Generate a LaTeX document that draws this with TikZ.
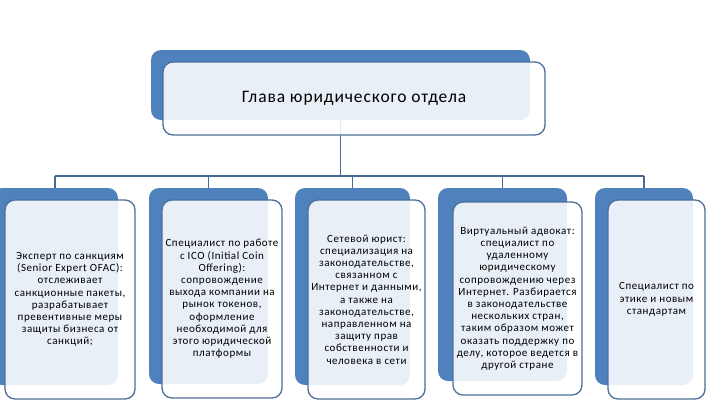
\documentclass[tikz,border=0pt]{standalone}
\usepackage{fontspec}
\setmainfont{Carlito}[LetterSpace=5]
\definecolor{backblue}{RGB}{79,129,189}
\definecolor{edgeblue}{RGB}{76,110,155}
\definecolor{linkblue}{RGB}{70,105,150}

\begin{document}
\begin{tikzpicture}[x=1pt, y=-1pt,
        back/.style={rounded corners=10pt, fill=backblue, inner sep=0pt},
        front/.style={rounded corners=10pt, draw=edgeblue, line width=1.3pt, fill=white, fill opacity=0.88, text opacity=1, inner sep=2pt, align=center, font=\fontsize{11}{12.2}\selectfont},
        link/.style={draw=linkblue, line width=1.8pt}]
        \useasboundingbox (0,0) rectangle (707,418);
        % back boxes
        \node [back, minimum width=379pt, minimum height=70pt] (headback) at (340.5,85) {};
        \node [back, minimum width=126pt, minimum height=197pt] (s1back) at (55,286.5) {};
        \node [back, minimum width=119pt, minimum height=196pt] (s2back) at (208.5,286) {};
        \node [back, minimum width=115pt, minimum height=197pt] (s3back) at (352.5,286.5) {};
        \node [back, minimum width=129pt, minimum height=193pt] (s4back) at (502.5,284.5) {};
        \node [back, minimum width=98pt, minimum height=197pt] (s5back) at (644,286.5) {};
        % connectors
        \coordinate (bus) at (0,176);
        \draw [link] (headback.south) -- (headback.south |- bus);
        \draw [link] (s1back.north |- bus) -- (s5back.north |- bus);
        \foreach \i in {1,...,5}
            \draw [link] (s\i back.north |- bus) -- (s\i back.north);
        % front boxes
        \node [front, minimum width=382pt, minimum height=73pt, font=\fontsize{17.5}{21}\selectfont] (head) at (354,98.5) {Глава юридического отдела};
        \node [front, minimum width=130pt, minimum height=199pt] (s1) at (70,299.5)
            {Эксперт по санкциям\\(Senior Expert OFAC):\\отслеживает\\санкционные пакеты,\\разрабатывает\\превентивные меры\\защиты бизнеса от\\санкций;};
        \node [front, minimum width=120pt, minimum height=198pt] (s2) at (222,299)
            {Специалист по работе\\с ICO (Initial Coin\\Offering):\\сопровождение\\выхода компании на\\рынок токенов,\\оформление\\необходимой для\\этого юридической\\платформы};
        \node [front, minimum width=117pt, minimum height=199pt] (s3) at (366.5,299.5)
            {Сетевой юрист:\\специализация на\\законодательстве,\\связанном с\\Интернет и данными,\\а также на\\законодательстве,\\направленном на\\защиту прав\\собственности и\\человека в сети};
        \node [front, minimum width=129pt, minimum height=193pt] (s4) at (517.5,298.5)
            {Виртуальный адвокат:\\специалист по\\удаленному\\юридическому\\сопровождению через\\Интернет. Разбирается\\в законодательстве\\нескольких стран,\\таким образом может\\оказать поддержку по\\делу, которое ведется в\\другой стране};
        \node [front, minimum width=97pt, minimum height=199pt] (s5) at (656.5,299.5)
            {Специалист по\\этике и новым\\стандартам};
\end{tikzpicture}
\end{document}
